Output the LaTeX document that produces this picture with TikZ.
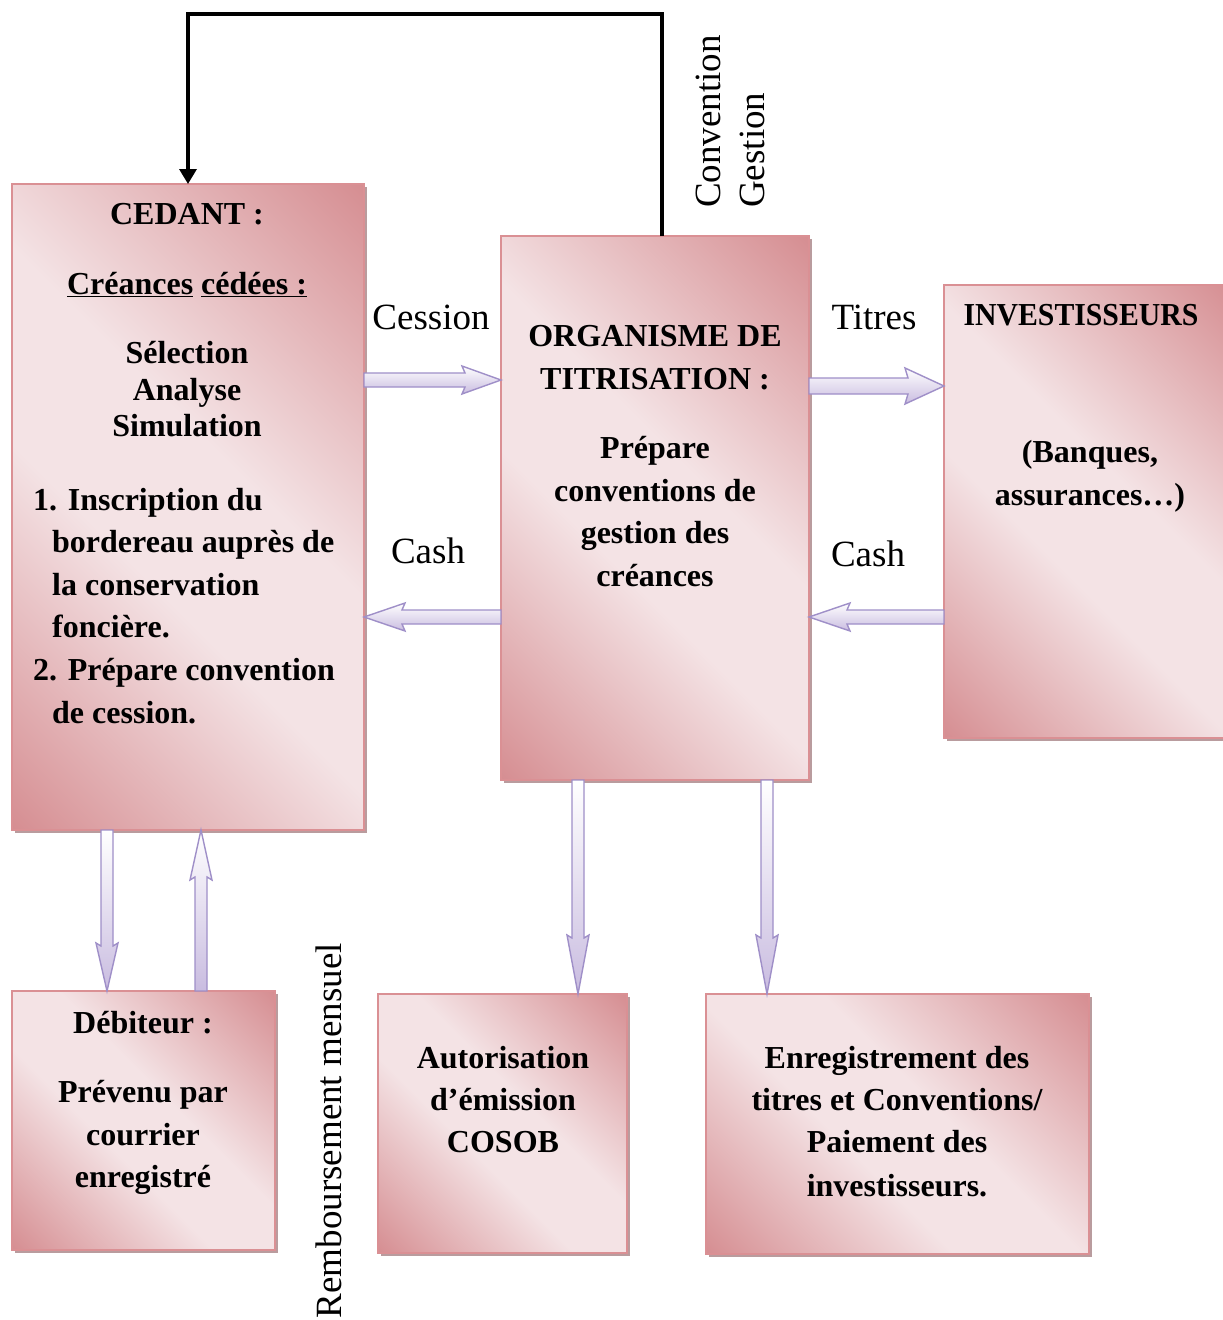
\documentclass[tikz,border=0pt]{standalone}
\usepackage{fontspec}
\setmainfont{Liberation Serif}
\usetikzlibrary{calc,arrows.meta,shadows}

\definecolor{pkdark}{HTML}{D58C90}
\definecolor{pklight}{HTML}{F4E3E5}
\definecolor{pkedge}{HTML}{DA9094}
\definecolor{pkshadow}{HTML}{A27C7E}
\definecolor{lavfill}{HTML}{C9BCE0}
\definecolor{lavedge}{HTML}{9F8FC8}

\pgfdeclarehorizontalshading{boxshade}{100bp}{color(0bp)=(pkdark); color(14bp)=(pkdark); color(42bp)=(pklight); color(56bp)=(pklight); color(86bp)=(pkdark); color(100bp)=(pkdark)}

\tikzset{
  box/.style={draw=pkedge, line width=1.5pt, shading=boxshade, shading angle=45,
    inner sep=0pt, outer sep=0pt,
    drop shadow={shadow xshift=3pt, shadow yshift=-3pt, fill=pkshadow, opacity=.75}},
  boxtext/.style={font=\bfseries\fontsize{32}{38}\selectfont, inner sep=0pt, anchor=base},
  lefttext/.style={boxtext, anchor=base west},
  flowlabel/.style={font=\fontsize{37}{44}\selectfont, inner sep=0pt, anchor=base},
  barrow/.style={draw=lavedge, line width=1.4pt, top color=white, bottom color=lavfill},
  conn/.style={line width=3.4pt, -{Triangle[length=15pt,width=17pt]}},
}

% block arrow from #1 to #2: shaft half width #3, head half width #4, head length #5
\newcommand\blockarrow[5]{%
  \path[barrow] let \p1=(#1), \p2=(#2),
      \n1={atan2(\y2-\y1,\x2-\x1)}, \n2={veclen(\x2-\x1,\y2-\y1)} in
    [shift={(\p1)}, rotate=\n1]
    (0pt,-#3pt) -- ({\n2-#5pt},-#3pt) -- ({\n2-#5pt-3pt},-#4pt)
    -- (\n2,0pt) -- ({\n2-#5pt-3pt},#4pt) -- ({\n2-#5pt},#3pt)
    -- (0pt,#3pt) -- cycle;}

\begin{document}
\begin{tikzpicture}[x=1pt, y=-1pt]
\useasboundingbox (0,0) rectangle (1223,1320);
\fill[white] (0,0) rectangle (1223,1320);

% main boxes
\node[box, minimum width=352, minimum height=646] (ced) at (188,507) {};
\node[box, minimum width=308, minimum height=544] (org) at (655,508) {};
\node[box, minimum width=290, minimum height=453] (inv) at (1089,511.5) {};
\node[box, minimum width=263, minimum height=259] (deb) at (143.5,1120.5) {};
\node[box, minimum width=249, minimum height=259] (aut) at (502.5,1123.5) {};
\node[box, minimum width=383, minimum height=260] (enr) at (897.5,1124) {};

% feedback line from the titrisation body back to the cedant
\coordinate (ret) at (ced.north |- 0,14);
\draw[conn] ($(org.north)+(7,0)$) |- (ret) -- (ced.north);

% block arrows between the boxes
\blockarrow{ced.east |- 0,380}{org.west |- 0,380}{7}{14}{36}
\blockarrow{org.east |- 0,386}{inv.west |- 0,386}{8}{18}{36}
\blockarrow{org.west |- 0,617}{ced.east |- 0,617}{7}{14}{38}
\blockarrow{inv.west |- 0,617}{org.east |- 0,617}{7}{14}{38}
\blockarrow{ced.south -| 107,0}{deb.north -| 107,0}{6}{11}{45}
\blockarrow{deb.north -| 201,0}{ced.south -| 201,0}{6}{11}{47}
\blockarrow{org.south -| 578,0}{aut.north -| 578,0}{6}{11}{56}
\blockarrow{org.south -| 767,0}{enr.north -| 767,0}{6}{11}{56}

% flow labels
\node[flowlabel] (lcession) at (431,329) {Cession};
\node[flowlabel] (ltitres) at (874,329) {Titres};
\node[flowlabel] (lcash1) at (428,563) {Cash};
\node[flowlabel] (lcash2) at (868,566) {Cash};
\node[flowlabel, rotate=90, anchor=mid west] (lconv) at (718,208) {Convention};
\node[flowlabel, rotate=90, anchor=mid west] (lgest) at (762,208) {Gestion};
\node[flowlabel, rotate=90, anchor=mid east] (lremb) at (339,943) {Remboursement mensuel};

% cedant
\node[boxtext] (c1) at (187,224) {CEDANT :};
\node[boxtext] (c2) at (187,294) {\underline{Créances} \underline{cédées :}};
\node[boxtext] (c3) at (187,363) {Sélection};
\node[boxtext] (c4) at (187,400) {Analyse};
\node[boxtext] (c5) at (187,436) {Simulation};
\node[lefttext] (c6) at (33,510) {1. Inscription du};
\node[lefttext] (c7) at (52,552) {bordereau auprès de};
\node[lefttext] (c8) at (52,595) {la conservation};
\node[lefttext] (c9) at (52,637) {foncière.};
\node[lefttext] (c10) at (33,680) {2. Prépare convention};
\node[lefttext] (c11) at (52,723) {de cession.};

% organisme de titrisation
\node[boxtext] (o1) at (655,346) {ORGANISME DE};
\node[boxtext] (o2) at (655,389) {TITRISATION :};
\node[boxtext] (o3) at (655,458) {Prépare};
\node[boxtext] (o4) at (655,501) {conventions de};
\node[boxtext] (o5) at (655,543) {gestion des};
\node[boxtext] (o6) at (655,586) {créances};

% investisseurs
\node[boxtext] (i1) at (1081,325) {\scalebox{0.93}[1]{INVESTISSEURS}};
\node[boxtext] (i2) at (1090,462) {(Banques,};
\node[boxtext] (i3) at (1090,505) {assurances…)};

% debiteur
\node[boxtext] (d1) at (143,1033) {Débiteur :};
\node[boxtext] (d2) at (143,1102) {Prévenu par};
\node[boxtext] (d3) at (143,1145) {courrier};
\node[boxtext] (d4) at (143,1187) {enregistré};

% autorisation
\node[boxtext] (a1) at (503,1068) {Autorisation};
\node[boxtext] (a2) at (503,1110) {d’émission};
\node[boxtext] (a3) at (503,1152) {COSOB};

% enregistrement
\node[boxtext] (e1) at (897,1068) {Enregistrement des};
\node[boxtext] (e2) at (897,1110) {titres et Conventions/};
\node[boxtext] (e3) at (897,1152) {Paiement des};
\node[boxtext] (e4) at (897,1196) {investisseurs.};
\end{tikzpicture}
\end{document}
